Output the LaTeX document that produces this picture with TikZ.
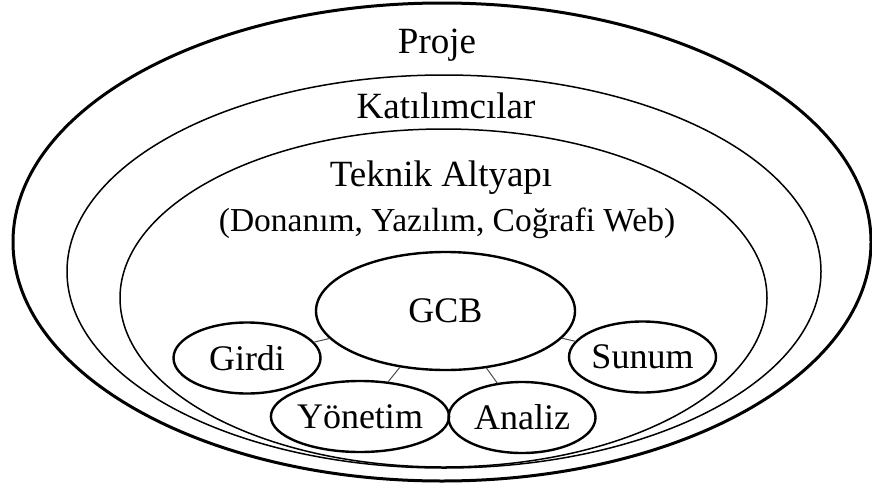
\documentclass[tikz,border=0pt]{standalone}
\usepackage{fontspec}
\setmainfont{Liberation Serif}
\usetikzlibrary{shapes.geometric,positioning}

\tikzset{
  layer/.style={ellipse,draw,inner sep=0pt},
  part/.style={ellipse,draw,line width=2.4pt,inner sep=0pt,minimum width=147pt,minimum height=71pt,font=\fontsize{36}{40}\selectfont},
  title/.style={anchor=base,font=\fontsize{37}{40}\selectfont},
  link/.style={draw=black!70,line width=1pt}
}

\begin{document}
\begin{tikzpicture}[line cap=round,line join=round,x=1pt,y=-1pt]
\useasboundingbox (0,0) rectangle (872,490);
% nested layers
\node[layer,line width=3pt,minimum width=858pt,minimum height=478pt] (proje) at (442,242) {};
\node[layer,line width=1.5pt,minimum width=754pt,minimum height=393pt] (katilim) at (444,271.5) {};
\node[layer,line width=1.5pt,minimum width=647pt,minimum height=338pt] (altyapi) at (443.5,298) {};

\node[title] (projeText) at (437,53) {Proje};
\node[title] (katilimText) at (446,118) {Katılımcılar};
\node[title] (altyapiText) at (441,186) {Teknik Altyapı};
\node[title,font=\fontsize{33.5}{36}\selectfont] (altyapiSub) at (447,231) {(Donanım, Yazılım, Coğrafi Web)};

% GCB and its parts
\node[part,minimum width=259pt,minimum height=118pt] (gcb) at (445.5,311) {GCB};
\node[part] (girdi) at (247,358) {Girdi};
\node[part] (yonetim) at (360,416.5) {Yönetim};
\node[part] (analiz) at (522,417.5) {Analiz};
\node[part] (sunum) at (642.5,357) {Sunum};

\foreach \p in {girdi,yonetim,analiz,sunum}
\draw[link] (gcb) -- (\p);

\end{tikzpicture}
\end{document}
